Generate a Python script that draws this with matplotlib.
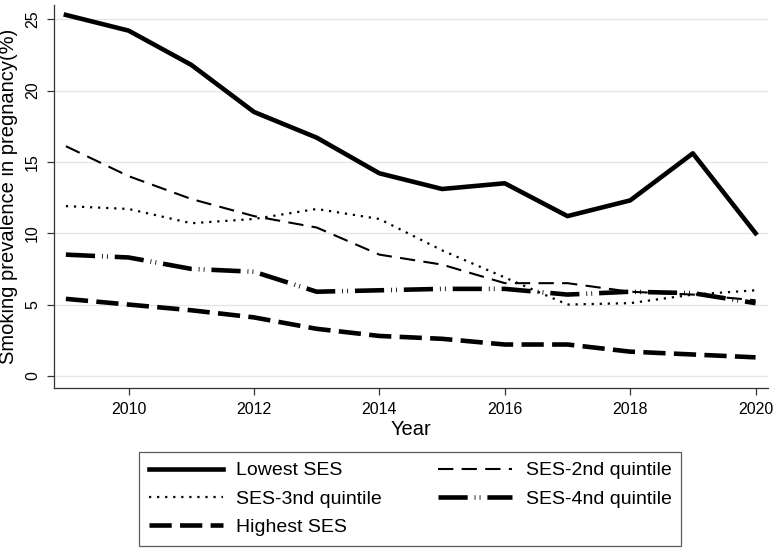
import matplotlib
matplotlib.use("Agg")
import matplotlib.pyplot as plt

years = [2009, 2010, 2011, 2012, 2013, 2014, 2015, 2016, 2017, 2018, 2019, 2020]
lowest = [25.3, 24.2, 21.8, 18.5, 16.7, 14.2, 13.1, 13.5, 11.2, 12.3, 15.6, 10.0]
q2 = [16.1, 14.0, 12.4, 11.2, 10.4, 8.5, 7.8, 6.5, 6.5, 5.9, 5.7, 5.3]
q3 = [11.9, 11.7, 10.7, 11.0, 11.7, 11.0, 8.8, 6.9, 5.0, 5.1, 5.7, 6.0]
q4 = [8.5, 8.3, 7.5, 7.3, 5.9, 6.0, 6.1, 6.1, 5.7, 5.9, 5.8, 5.1]
highest = [5.4, 5.0, 4.6, 4.1, 3.3, 2.8, 2.6, 2.2, 2.2, 1.7, 1.5, 1.3]
labels = ["Lowest SES", "SES-2nd quintile", "SES-3nd quintile",
          "SES-4nd quintile", "Highest SES"]

plt.rcParams['font.family'] = ['Liberation Sans', 'DejaVu Sans']
plt.rcParams['lines.scale_dashes'] = False

fig = plt.figure(figsize=(7.79, 5.5), dpi=100)
ax = fig.add_axes([0.0693, 0.2945, 0.9167, 0.6965])

l1, = ax.plot(years, lowest, color='black', lw=3.3, label=labels[0])
l2, = ax.plot(years, q2, color='black', lw=1.5, linestyle=(0, (11, 6)), label=labels[1])
l3, = ax.plot(years, q3, color='black', lw=1.6, linestyle=(0, (1.6, 4.2)), label=labels[2])
l4, = ax.plot(years, q4, color='black', lw=3.3, dash_capstyle='butt',
              linestyle=(0, (21, 5, 0.6, 3, 0.6, 5)), label=labels[3])
l5, = ax.plot(years, highest, color='black', lw=3.3, dash_capstyle='butt',
              linestyle=(0, (16, 6)), label=labels[4])

ax.set_xlim(2008.81, 2020.2)
ax.set_ylim(-0.85, 26.0)
ax.set_xticks([2010, 2012, 2014, 2016, 2018, 2020])
ax.set_yticks([0, 5, 10, 15, 20, 25])
ax.yaxis.grid(True, color='#e6e6e6', lw=1.0)
ax.set_axisbelow(True)
for s in ['top', 'right']:
    ax.spines[s].set_visible(False)
for s in ['left', 'bottom']:
    ax.spines[s].set_color('#333333')
    ax.spines[s].set_linewidth(0.9)
ax.tick_params(axis='both', length=5, width=0.9, color='#333333', labelsize=11.5, pad=5)
plt.setp(ax.get_yticklabels(), rotation=90, va='center')

ax.set_xlabel("Year", fontsize=14.5, labelpad=2)
ax.set_ylabel("Smoking prevalence in pregnancy(%)", fontsize=14.5, labelpad=5)

# row-wise legend order, as in the original
handles = [l1, l3, l5, l2, l4]
leg = fig.legend(handles, [h.get_label() for h in handles],
                 loc='upper left', bbox_to_anchor=(139 / 779, 1 - 452 / 550),
                 ncol=2, fontsize=14, frameon=True, fancybox=False,
                 edgecolor='#333333', handlelength=3.8, handletextpad=0.7,
                 columnspacing=2.9, labelspacing=0.55, borderpad=0.5,
                 borderaxespad=0)
leg.get_frame().set_linewidth(0.9)

plt.savefig('out.png', dpi=100)
